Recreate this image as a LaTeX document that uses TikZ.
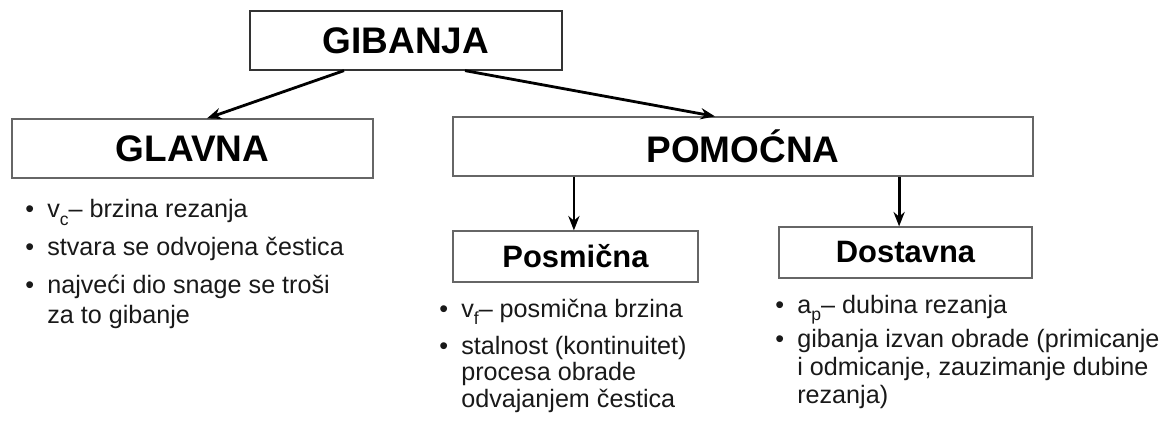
\documentclass[tikz,border=0pt]{standalone}
\usepackage{fontspec}
\setmainfont{Liberation Sans}
\usetikzlibrary{arrows.meta,positioning}

\newcommand{\stavka}[1]{\begin{tabular}[t]{@{}p{0.55cm}@{}l@{}}\textbullet & #1\end{tabular}}
\newcommand{\indeks}[1]{\raisebox{-0.3em}{\fontsize{12.5}{12.5}\selectfont #1}}

\tikzset{
  naslov/.style={draw=black!60, line width=0.9pt, fill=white, inner sep=0pt,
    minimum height=1.475cm, font=\fontsize{26.3}{30}\selectfont\bfseries},
  podnaslov/.style={draw=black!60, line width=0.9pt, fill=white, inner sep=0pt,
    minimum height=1.275cm, font=\fontsize{22}{26}\selectfont\bfseries},
  stavke/.style={anchor=base west, inner sep=0pt, text=black!90},
  strelica/.style={line width=2pt, -{Stealth[length=0.36cm, width=0.28cm]}}
}

\begin{document}
\begin{tikzpicture}
  \useasboundingbox (0,0) rectangle (29.25,-10.575);

  \node [naslov, draw=black!80, minimum width=7.8cm] (gib) at (10.15,-1.0125) {GIBANJA};
  \node [naslov, minimum width=9.025cm] (glav) at (4.8125,-3.7125) {GLAVNA};
  \node [naslov, minimum width=14.5cm] (pom) at (18.575,-3.6625) {POMOĆNA};
  \node [podnaslov, minimum width=6.125cm] (posm) at (14.3875,-6.4125) {Posmična};
  \node [podnaslov, minimum width=6.325cm] (dost) at (22.6375,-6.3125) {Dostavna};

  % strelice
  \draw [strelica] ([xshift=-1.55cm]gib.south) -- ([xshift=0.3625cm]glav.north);
  \draw [strelica] ([xshift=1.475cm]gib.south) -- ([xshift=-0.7cm]pom.north);
  \coordinate (ptop) at ([xshift=-0.04cm]posm.north);
  \coordinate (dtop) at ([xshift=-0.16cm]dost.north);
  \draw [strelica] (pom.south -| ptop) -- (ptop);
  \draw [strelica] (pom.south -| dtop) -- (dtop);

  % glavna
  \begin{scope}[font=\fontsize{17.9}{21.3}\selectfont]
    \node [stavke] (gl1) at (0.625,-5.45) {\stavka{v\indeks{c}– brzina rezanja}};
    \node [stavke] (gl2) at (0.625,-6.4) {\stavka{stvara se odvojena čestica}};
    \node [stavke] (gl3) at (0.625,-7.35) {\stavka{najveći dio snage se troši\\ & za to gibanje}};
  \end{scope}

  % posmicna
  \begin{scope}[font=\fontsize{17.9}{18.9}\selectfont]
    \node [stavke] (po1) at (10.975,-7.925) {\stavka{v\indeks{f}– posmična brzina}};
    \node [stavke] (po2) at (10.975,-8.85) {\stavka{stalnost (kontinuitet)\\ & procesa obrade\\ & odvajanjem čestica}};
  \end{scope}

  % dostavna
  \begin{scope}[font=\fontsize{17.9}{19.6}\selectfont]
    \node [stavke] (do1) at (19.375,-7.825) {\stavka{a\indeks{p}– dubina rezanja}};
    \node [stavke] (do2) at (19.375,-8.7) {\stavka{gibanja izvan obrade (primicanje\\ & i odmicanje, zauzimanje dubine\\ & rezanja)}};
  \end{scope}
\end{tikzpicture}
\end{document}
